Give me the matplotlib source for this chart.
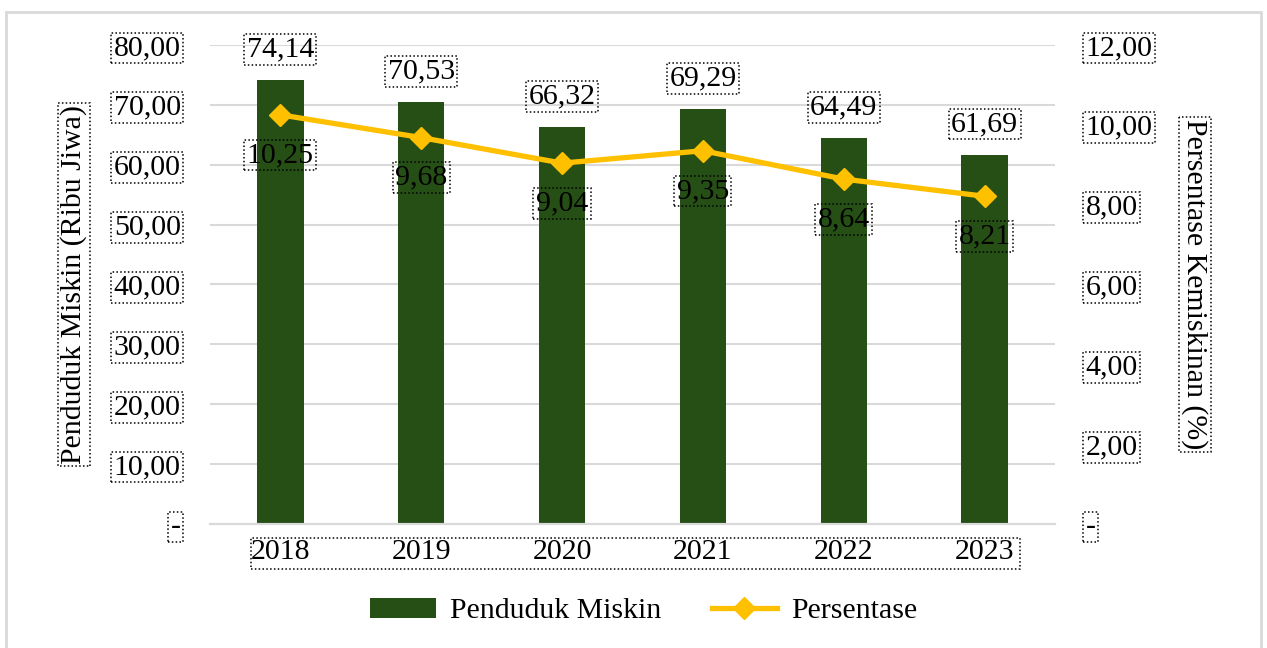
import matplotlib
matplotlib.use('Agg')
import matplotlib.pyplot as plt
from matplotlib.patches import Rectangle

# data
tahun = ['2018', '2019', '2020', '2021', '2022', '2023']
penduduk_miskin = [74.14, 70.53, 66.32, 69.29, 64.49, 61.69]   # ribu jiwa
persentase = [10.25, 9.68, 9.04, 9.35, 8.64, 8.21]             # persen

hijau = '#264F16'
kuning = '#FFC000'
abu = '#D9D9D9'
fs = 21.5

plt.rcParams['font.family'] = ['Liberation Serif', 'DejaVu Serif']

def koma(v):
    if v == 0:
        return '-'
    return f'{v:.2f}'.replace('.', ',')

kotak = dict(boxstyle='square,pad=0.08', fc='none', ec='black', ls=(0, (1, 1.5)), lw=1.1)

fig = plt.figure(figsize=(12.67, 6.48), dpi=100)
ax = fig.add_axes([0.1657, 0.1914, 0.667, 0.7392])
ax2 = ax.twinx()

x = list(range(len(tahun)))
bars = ax.bar(x, penduduk_miskin, width=0.33, color=hijau, zorder=2)
ax2.plot(x, persentase, color=kuning, lw=3.8, marker='D', ms=11, zorder=3)

ax.set_xlim(-0.5, 5.5)
ax.set_ylim(0, 80)
ax2.set_ylim(0, 12)

kiri = [0, 10, 20, 30, 40, 50, 60, 70, 80]
kanan = [0, 2, 4, 6, 8, 10, 12]
ax.set_yticks(kiri, [koma(v) for v in kiri])
ax2.set_yticks(kanan, [koma(v) for v in kanan])
ax.set_xticks(x, tahun)

ax.grid(axis='y', color=abu, lw=1.5, zorder=0)
ax.set_axisbelow(True)
for a in (ax, ax2):
    for s in ['top', 'left', 'right']:
        a.spines[s].set_visible(False)
    a.spines['bottom'].set_color(abu)
    a.spines['bottom'].set_linewidth(1.5)
ax.tick_params(axis='both', length=0, labelsize=fs)
ax.tick_params(axis='y', pad=21)
ax.tick_params(axis='x', pad=11)
ax2.tick_params(axis='y', length=0, labelsize=fs, pad=22)

for t in ax.get_yticklabels() + ax2.get_yticklabels():
    t.set_bbox(kotak)

ax.set_ylabel('Penduduk Miskin (Ribu Jiwa)', fontsize=fs, labelpad=19, bbox=kotak)
ax2.set_ylabel('Persentase Kemiskinan (%)', fontsize=fs, rotation=-90, labelpad=40, bbox=kotak)

# label nilai
for i, v in enumerate(penduduk_miskin):
    ax.annotate(koma(v), (i, v), xytext=(0, 22), textcoords='offset points',
                ha='center', va='center', fontsize=fs, bbox=kotak)
for i, v in enumerate(persentase):
    ax2.annotate(koma(v), (i, v), xytext=(0, -29), textcoords='offset points',
                 ha='center', va='center', fontsize=fs, bbox=kotak, zorder=4)

# kotak titik-titik di sekitar label tahun
fig.add_artist(Rectangle((251 / 1267, 1 - 569 / 648), (1020 - 251) / 1267, 31 / 648,
                         transform=fig.transFigure, fill=False, ec='black',
                         ls=(0, (1, 1.5)), lw=1.1))

# legenda
fig.legend([bars, ax2.lines[0]], ['Penduduk Miskin', 'Persentase'],
           loc='center', bbox_to_anchor=(0.508, 1 - 611 / 648), ncol=2, frameon=False,
           fontsize=fs, handlelength=2.2, columnspacing=1.7, handletextpad=0.45)

# bingkai luar
fig.add_artist(Rectangle((6 / 1267, -0.01), 1255 / 1267, 1 - 12 / 648 + 0.01,
                         transform=fig.transFigure, fill=False, ec=abu, lw=2))

fig.savefig('out.png', dpi=100)
